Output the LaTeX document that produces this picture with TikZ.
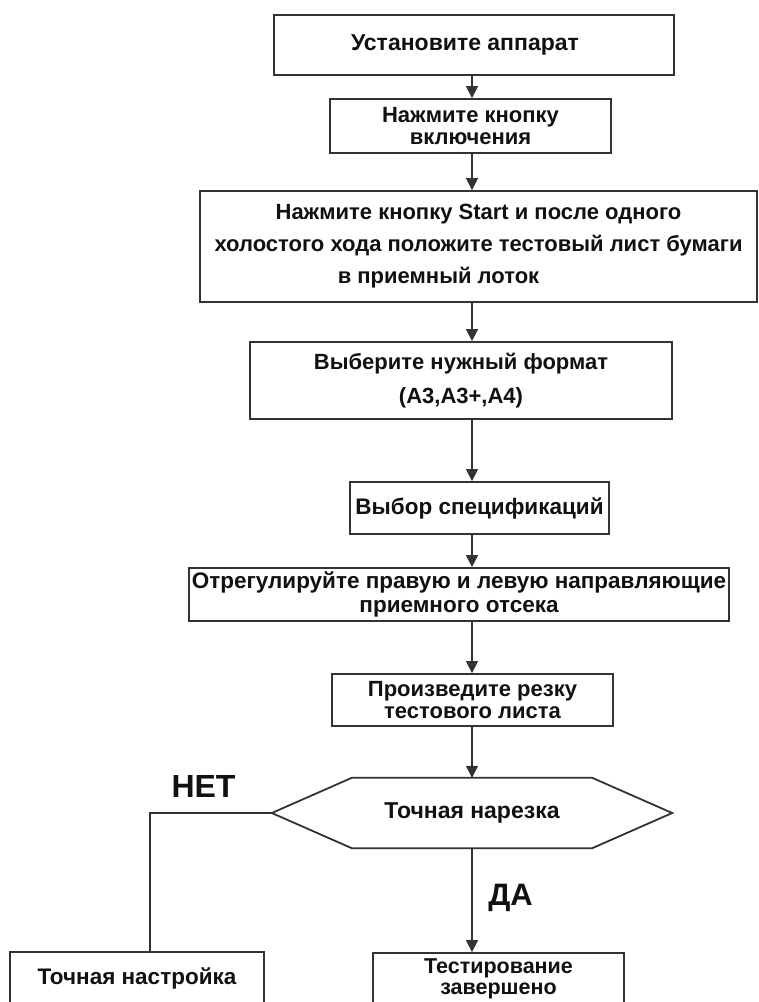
\documentclass[tikz,border=0pt]{standalone}
\usepackage{fontspec}
\setmainfont{Liberation Sans}
\usetikzlibrary{arrows.meta}
\definecolor{linecol}{HTML}{333333}
\definecolor{textcol}{HTML}{111111}
\begin{document}
\begin{tikzpicture}[x=1pt,y=-1pt,
  box/.style={draw=linecol, line width=1.8pt, fill=white, inner sep=0pt, text=textcol, align=center},
  arr/.style={draw=linecol, line width=1.5pt, -{Triangle[length=12pt,width=12pt]}},
  plainline/.style={draw=linecol, line width=1.5pt},
  lbl/.style={inner sep=0pt, text=textcol}]
\useasboundingbox (0,0) rectangle (759,1002);
\clip (0,0) rectangle (759,1002);
\fill[white] (0,0) rectangle (759,1002);
\coordinate (ax) at (472,0);
\coordinate (nx) at (150,0);

\node[box, minimum width=400pt, minimum height=60pt, font={\bfseries\fontsize{23}{26}\selectfont}] (b1) at (474,45) {Установите аппарат\hspace*{18pt}};
\node[box, minimum width=281pt, minimum height=54pt, font={\bfseries\fontsize{22}{21.5}\selectfont}] (b2) at (470.5,126) {Нажмите кнопку\\включения};
\node[box, minimum width=557pt, minimum height=111pt, font={\bfseries\fontsize{22}{32}\selectfont}] (b3) at (478.5,246.5) {Нажмите кнопку Start и после одного\\холостого хода положите тестовый лист бумаги\\в приемный лоток\hspace*{80pt}};
\node[box, minimum width=422pt, minimum height=77pt, font={\bfseries\fontsize{22}{34}\selectfont}] (b4) at (461,380.5) {Выберите нужный формат\\(A3,A3+,A4)};
\node[box, minimum width=259pt, minimum height=52pt, font={\bfseries\fontsize{22.5}{26}\selectfont}] (b5) at (479.5,508) {Выбор спецификаций};
\node[box, minimum width=540pt, minimum height=53pt, font={\bfseries\fontsize{22.5}{24}\selectfont}] (b6) at (459,594.5) {Отрегулируйте правую и левую направляющие\\приемного отсека};
\node[box, minimum width=281pt, minimum height=52pt, font={\bfseries\fontsize{22}{21.5}\selectfont}] (b7) at (472.5,700) {Произведите резку\\тестового листа};
\node[inner sep=0pt, minimum width=400pt, minimum height=70pt, text=textcol, font={\bfseries\fontsize{23}{26}\selectfont}] (hex) at (472,813) {Точная нарезка};
\draw[draw=linecol, line width=1.8pt] (hex.west) -- ([xshift=80pt]hex.north west) -- ([xshift=-80pt]hex.north east) -- (hex.east) -- ([xshift=-80pt]hex.south east) -- ([xshift=80pt]hex.south west) -- cycle;
\node[box, minimum width=254pt, minimum height=52pt, font={\bfseries\fontsize{22.5}{26}\selectfont}] (b8) at (137,978) {Точная настройка};
\node[box, minimum width=251pt, minimum height=52pt, font={\bfseries\fontsize{21.5}{21.5}\selectfont}] (b9) at (498.5,979) {Тестирование\\завершено};

\node[lbl, font={\bfseries\fontsize{32}{34}\selectfont}] (no) at (203.5,786.5) {НЕТ};
\node[lbl, font={\bfseries\fontsize{31}{34}\selectfont}] (yes) at (510.5,897.5) {ДА};

\draw[arr] (b1.south -| ax) -- (b2.north -| ax);
\draw[arr] (b2.south -| ax) -- (b3.north -| ax);
\draw[arr] (b3.south -| ax) -- (b4.north -| ax);
\draw[arr] (b4.south -| ax) -- (b5.north -| ax);
\draw[arr] (b5.south -| ax) -- (b6.north -| ax);
\draw[arr] (b6.south -| ax) -- (b7.north -| ax);
\draw[arr] (b7.south -| ax) -- (hex.north -| ax);
\draw[arr] (hex.south -| ax) -- (b9.north -| ax);
\draw[plainline] (hex.west) -| (b8.north -| nx);
\end{tikzpicture}
\end{document}
